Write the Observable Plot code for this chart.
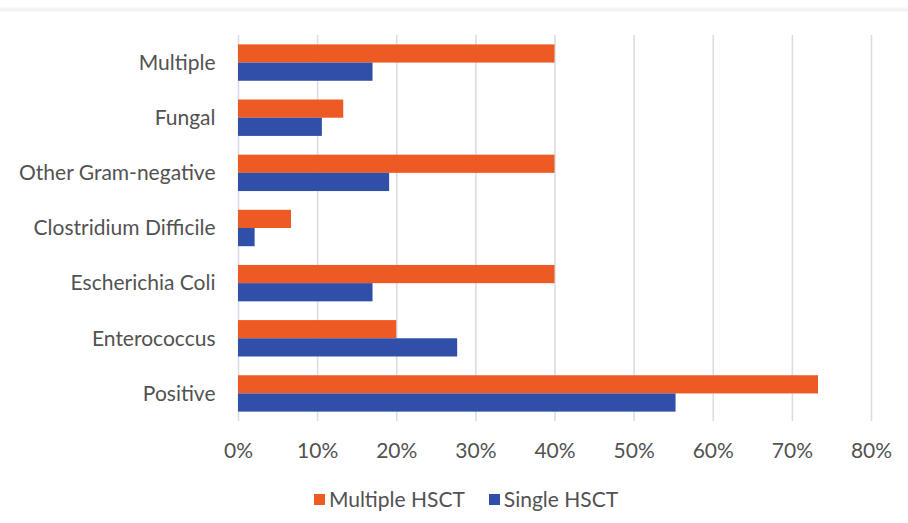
<!DOCTYPE html>
<html>
<head>
<meta charset="utf-8">
<script src="https://cdn.jsdelivr.net/npm/d3@7"></script>
<script src="https://cdn.jsdelivr.net/npm/@observablehq/plot@0.6"></script>
<style>
  body { margin: 0; background: #fff; font-family: Lato, "Open Sans", sans-serif; color: #525252; }
  #wrap { width: 908px; height: 523px; position: relative; overflow: hidden; }
  #topline { position: absolute; left: 0; top: 7px; width: 908px; height: 5px; background: linear-gradient(#fbfbfb, #f1f1f1, #fbfbfb); }
  #chart { position: absolute; left: 0; top: 0; }
  #legend { position: absolute; left: 0; top: 487px; width: 908px; display: flex; justify-content: center; padding-left: 24px; box-sizing: border-box; font-size: 21px; line-height: 24px; }
  .item { display: flex; align-items: center; margin: 0 12px; }
  .swatch { width: 11px; height: 11px; margin-right: 4px; }
</style>
</head>
<body>
<div id="wrap">
  <div id="topline"></div>
  <div id="chart"></div>
  <div id="legend"></div>
</div>
<script>
// Infection categories, top to bottom
const categories = [
  "Multiple",
  "Fungal",
  "Other Gram-negative",
  "Clostridium Difficile",
  "Escherichia Coli",
  "Enterococcus",
  "Positive"
];
// Share of patients per category (fraction)
const multipleHSCT = [0.400, 0.133, 0.400, 0.067, 0.400, 0.200, 0.733];
const singleHSCT   = [0.170, 0.106, 0.191, 0.021, 0.170, 0.277, 0.553];
const seriesNames  = ["Multiple HSCT", "Single HSCT"];
const seriesColors = ["#ee5a24", "#2f4fa8"];
const xTicks = [0, 0.1, 0.2, 0.3, 0.4, 0.5, 0.6, 0.7, 0.8];

const rows = [];
categories.forEach((c, i) => {
  rows.push({category: c, series: seriesNames[0], value: multipleHSCT[i]});
  rows.push({category: c, series: seriesNames[1], value: singleHSCT[i]});
});

// Layout
const W = 908, H = 470, MT = 35, MB = 49, ML = 238, MR = 37;
const PI = 0.34, PO = 0.17;
const step = (H - MT - MB) / (categories.length - PI + 2 * PO);
const half = step * (1 - PI) / 2;

const chart = Plot.plot({
  width: W,
  height: H,
  marginTop: MT,
  marginBottom: MB,
  marginLeft: ML,
  marginRight: MR,
  style: {fontFamily: "Lato, 'Open Sans', sans-serif", fontSize: "21px", color: "#525252", background: "transparent"},
  x: {domain: [0, 0.8], ticks: xTicks, tickFormat: d3.format(".0%"), tickSize: 0, tickPadding: 22, label: null},
  y: {domain: categories, paddingInner: PI, paddingOuter: PO, round: false, tickSize: 0, tickPadding: 23, label: null},
  color: {domain: seriesNames, range: seriesColors},
  marks: [
    Plot.ruleX(xTicks, {stroke: "#d9dde3", strokeWidth: 1.6}),
    Plot.barX(rows.filter(d => d.series === seriesNames[0]), {x: "value", y: "category", fill: "series", insetBottom: half}),
    Plot.barX(rows.filter(d => d.series === seriesNames[1]), {x: "value", y: "category", fill: "series", insetTop: half})
  ]
});
document.getElementById("chart").appendChild(chart);

// Legend below the chart
const legend = d3.select("#legend");
seriesNames.forEach((name, i) => {
  const item = legend.append("div").attr("class", "item");
  item.append("div").attr("class", "swatch").style("background", seriesColors[i]);
  item.append("span").text(name);
});
</script>
</body>
</html>
